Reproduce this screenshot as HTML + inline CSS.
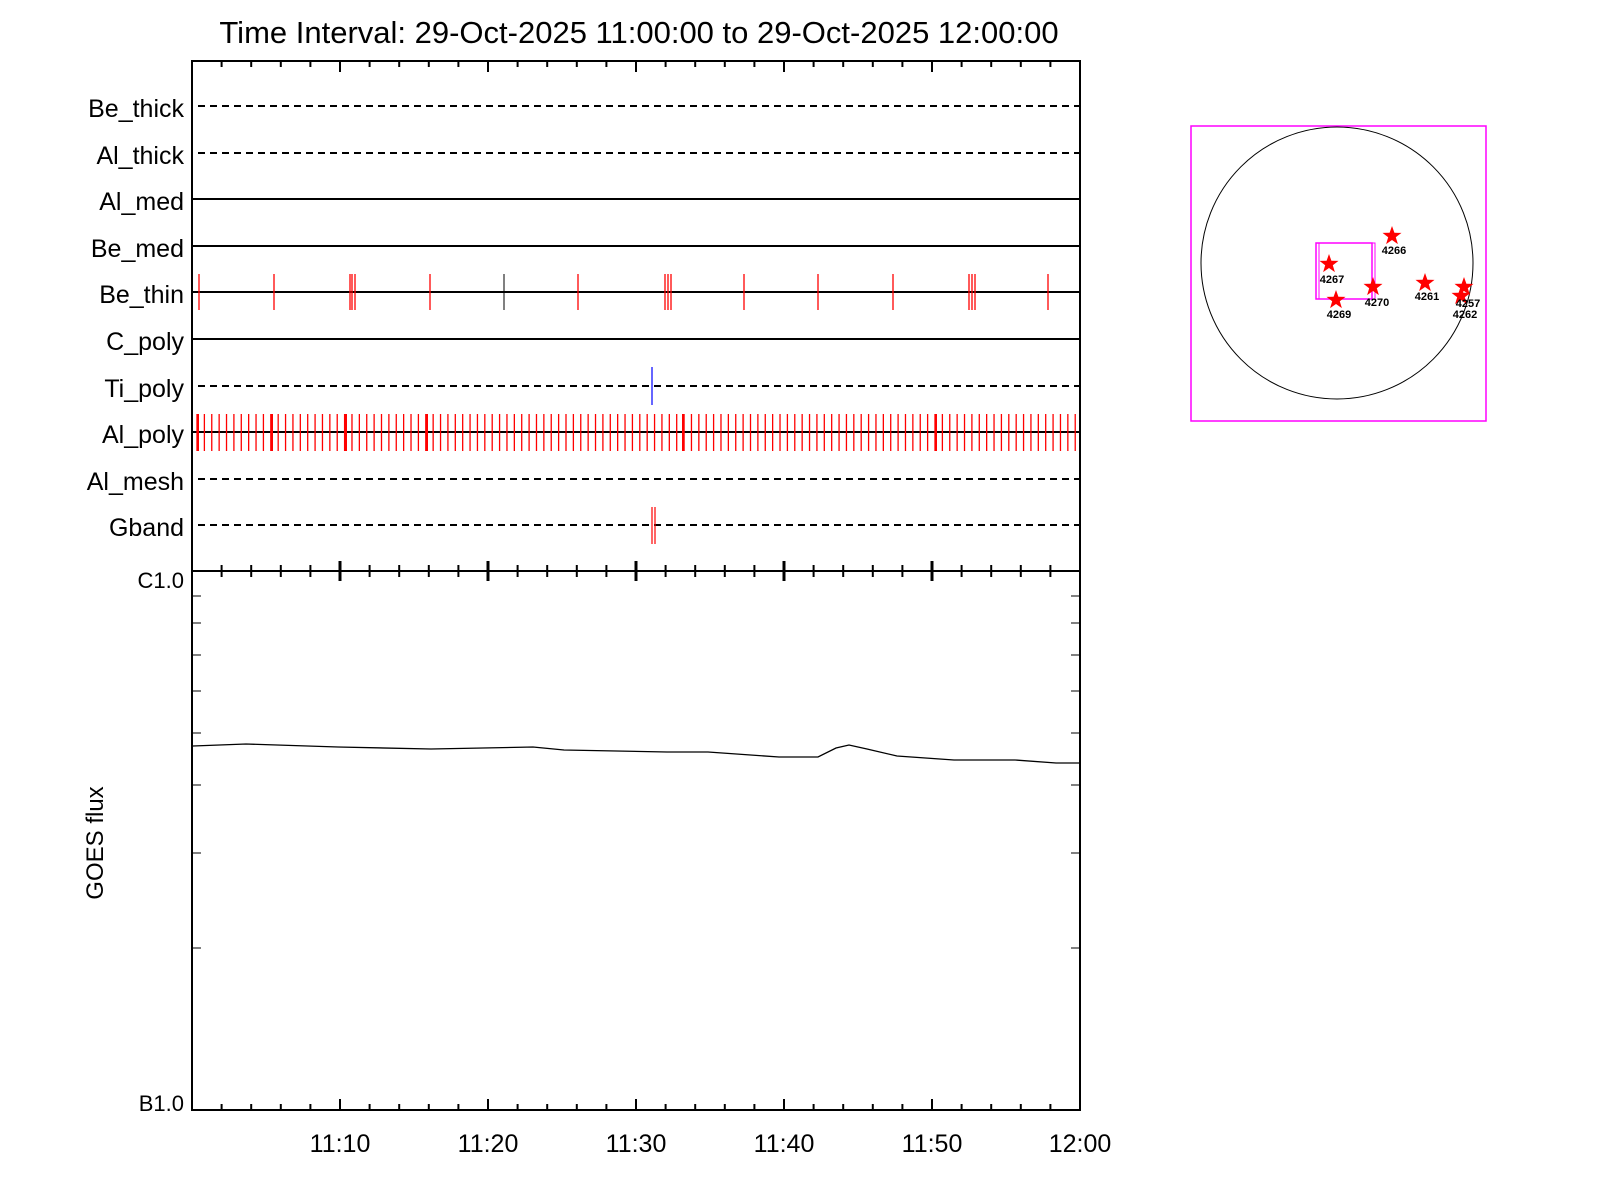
<!DOCTYPE html>
<html><head><meta charset="utf-8"><style>
body{margin:0;background:#fff;}
svg{display:block;font-family:"Liberation Sans",sans-serif;}
</style></head><body>
<svg id="s" width="1600" height="1200" viewBox="0 0 1600 1200" xmlns="http://www.w3.org/2000/svg">
<rect width="1600" height="1200" fill="#fff"/>
<text x="639" y="43" font-size="31" text-anchor="middle">Time Interval: 29-Oct-2025 11:00:00 to 29-Oct-2025 12:00:00</text>
<g font-size="25" text-anchor="end">
<text x="184" y="117">Be_thick</text>
<text x="184" y="164">Al_thick</text>
<text x="184" y="210">Al_med</text>
<text x="184" y="257">Be_med</text>
<text x="184" y="303">Be_thin</text>
<text x="184" y="350">C_poly</text>
<text x="184" y="397">Ti_poly</text>
<text x="184" y="443">Al_poly</text>
<text x="184" y="490">Al_mesh</text>
<text x="184" y="536">Gband</text>
<text x="184" y="588" font-size="22">C1.0</text>
<text x="184" y="1111" font-size="22">B1.0</text>
</g>
<text transform="translate(103,843) rotate(-90)" font-size="24" text-anchor="middle">GOES flux</text>
<g font-size="25" text-anchor="middle">
<text x="340" y="1152">11:10</text><text x="488" y="1152">11:20</text><text x="636" y="1152">11:30</text>
<text x="784" y="1152">11:40</text><text x="932" y="1152">11:50</text><text x="1080" y="1152">12:00</text>
</g>
<g id="lines" stroke="#000" stroke-width="2" fill="none">
<line x1="198" y1="106" x2="1080" y2="106" stroke-dasharray="7,5"/>
<line x1="198" y1="153" x2="1080" y2="153" stroke-dasharray="7,5"/>
<line x1="192" y1="199" x2="1080" y2="199"/>
<line x1="192" y1="246" x2="1080" y2="246"/>
<line x1="192" y1="292" x2="1080" y2="292"/>
<line x1="192" y1="339" x2="1080" y2="339"/>
<line x1="198" y1="386" x2="1080" y2="386" stroke-dasharray="7,5"/>
<line x1="192" y1="432" x2="1080" y2="432"/>
<line x1="198" y1="479" x2="1080" y2="479" stroke-dasharray="7,5"/>
<line x1="198" y1="525" x2="1080" y2="525" stroke-dasharray="7,5"/>
</g>
<g id="ticks"></g>
<rect x="192" y="61" width="888" height="1049" fill="none" stroke="#000" stroke-width="2"/>
<line x1="192" y1="571" x2="1080" y2="571" stroke="#000" stroke-width="2"/>
<polyline fill="none" stroke="#000" stroke-width="1.3" points="193,746 246,744 338,747 431,749 533,747 564,750 667,752 708,752 779,757 818,757 836,748 849,745 867,749 897,756 954,760 1015,760 1056,763 1080,763"/>
<g fill="none">
<rect x="1191" y="126" width="295" height="295" stroke="#f0f" stroke-width="1.5"/>
<circle cx="1337" cy="263" r="136" stroke="#000" stroke-width="1"/>
<rect x="1316" y="243" width="56" height="56" stroke="#f0f" stroke-width="1.5"/>
<rect x="1319" y="243" width="56" height="56" stroke="#f0f" stroke-width="1"/>
</g>
<g id="stars" fill="#f00"></g>
<g font-size="11" font-weight="bold" text-anchor="middle">
<text x="1394" y="254">4266</text><text x="1332" y="283">4267</text><text x="1339" y="318">4269</text>
<text x="1377" y="306">4270</text><text x="1427" y="300">4261</text><text x="1468" y="307">4257</text><text x="1465" y="318">4262</text>
</g>
<script>
var ns="http://www.w3.org/2000/svg",g=document.getElementById("ticks");
function L(x1,y1,x2,y2,c,w){var l=document.createElementNS(ns,"line");l.setAttribute("x1",x1);l.setAttribute("y1",y1);l.setAttribute("x2",x2);l.setAttribute("y2",y2);l.setAttribute("stroke",c);l.setAttribute("stroke-width",w);g.appendChild(l);}
for(var i=1;i<30;i++){var x=192+i*29.6,maj=i%5==0;L(x,61,x,maj?72:67,"#000",2);L(x,1110,x,maj?1099:1104,"#000",2);L(x,maj?561:565,x,maj?581:577,"#000",maj?3:2);}
[596,623,655,691,733,785,853,948].forEach(function(y){L(192,y,201,y,"#000",1);L(1071,y,1080,y,"#000",1);});
[199,274,350,352,355,430,578,665,668,671,744,818,893,969,972,975,1048].forEach(function(x){L(x,274,x,310,"#f00",1.3);});
L(504,274,504,310,"#000",1);
for(var x=197;x<1082;x+=7.38){L(x,414,x,451,"#f00",1.3);}
[197,271,345,426,682,935].forEach(function(x){L(x+1,414,x+1,451,"#f00",2);});
L(652,367,652,405,"#00f",1.2);
L(652,507,652,544,"#f00",1.2);L(655,507,655,544,"#f00",1.2);
var sg=document.getElementById("stars");
[[1392,236],[1329,264],[1336,300],[1373,287],[1425,283],[1464,287],[1461,296]].forEach(function(p){var pts=[];for(var k=0;k<10;k++){var r=k%2?4:10,a=-Math.PI/2+k*Math.PI/5;pts.push((p[0]+r*Math.cos(a)).toFixed(1)+","+(p[1]+r*Math.sin(a)).toFixed(1));}var pl=document.createElementNS(ns,"polygon");pl.setAttribute("points",pts.join(" "));sg.appendChild(pl);});
</script>
</svg>
</body></html>
